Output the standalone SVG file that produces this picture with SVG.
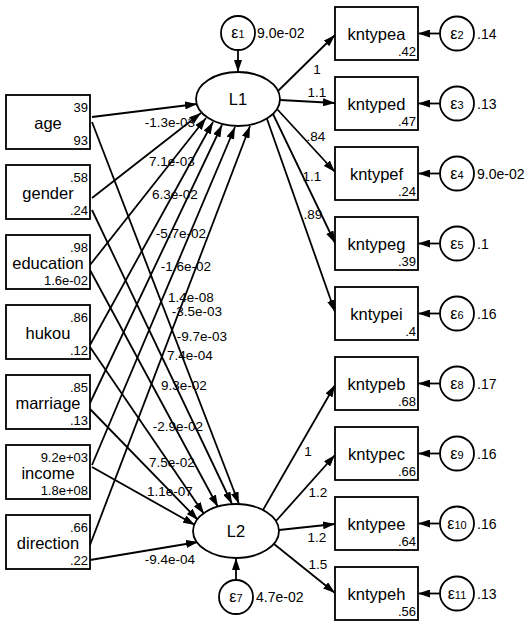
<svg xmlns="http://www.w3.org/2000/svg" width="529" height="627" viewBox="0 0 529 627">
<defs>
<marker id="ah" markerUnits="userSpaceOnUse" markerWidth="12" markerHeight="8" refX="12" refY="4" orient="auto">
<path d="M0,0 L12,4 L0,8 z" fill="#000"/>
</marker>
<style>
text{font-family:"Liberation Sans",Arial,sans-serif;fill:#000}
.box{fill:#fff;stroke:#000;stroke-width:1.8}
.nm{font-size:16.5px;text-anchor:middle}
.num{font-size:13px;text-anchor:end}
.lab{font-size:13.5px;text-anchor:middle}
.lbs{font-size:14px}
.eps{font-size:16px;text-anchor:middle}
.sub{font-size:11px}
.ell{fill:#fff;stroke:#000;stroke-width:1.8}
#connectors path{stroke:#000;stroke-width:1.8;fill:none;marker-end:url(#ah)}
</style>
</defs>
<rect width="529" height="627" fill="#fff"/>

<g id="connectors">
<path d="M92,117 L197,104"/>
<path d="M92,198 L201,113"/>
<path d="M90,265 L206,118"/>
<path d="M90,345 L213,122"/>
<path d="M90,403 L222,125"/>
<path d="M92,465 L235,127"/>
<path d="M90,545 L250,126"/>
<path d="M92,122 L239,504"/>
<path d="M92,210 L232,504"/>
<path d="M90,270 L218,507"/>
<path d="M90,347 L204,514"/>
<path d="M90,409 L198,520"/>
<path d="M92,467 L195,525"/>
<path d="M90,560 L198,542"/>
<path d="M278,91 L335,35"/>
<path d="M280,100 L335,103"/>
<path d="M277,109 L335,172"/>
<path d="M273,114 L335,243"/>
<path d="M267,119 L335,312"/>
<path d="M263,510 L335,385"/>
<path d="M276,521 L335,455"/>
<path d="M279,530 L335,524"/>
<path d="M274,544 L335,593"/>
<path d="M238,50 L238,72"/>
<path d="M236,580 L236,558"/>
<path d="M440,33.5 L418,33.5"/>
<path d="M440,103.5 L418,103.5"/>
<path d="M440,173.5 L418,173.5"/>
<path d="M440,243.5 L418,243.5"/>
<path d="M440,313.5 L418,313.5"/>
<path d="M440,383.5 L418,383.5"/>
<path d="M440,453.5 L418,453.5"/>
<path d="M440,523.5 L418,523.5"/>
<path d="M440,593.5 L418,593.5"/>
</g>

<g id="path-labels">
<text class="lab" x="170" y="127">-1.3e-03</text>
<text class="lab" x="172" y="166">7.1e-03</text>
<text class="lab" x="175" y="199">6.3e-02</text>
<text class="lab" x="181" y="238">-5.7e-02</text>
<text class="lab" x="186" y="271">-1.6e-02</text>
<text class="lab" x="191" y="302">1.4e-08</text>
<text class="lab" x="197" y="316">-3.5e-03</text>
<text class="lab" x="202" y="341">-9.7e-03</text>
<text class="lab" x="190" y="360">7.4e-04</text>
<text class="lab" x="184" y="390">9.3e-02</text>
<text class="lab" x="178" y="431">-2.9e-02</text>
<text class="lab" x="172" y="467">7.5e-02</text>
<text class="lab" x="170" y="496">1.1e-07</text>
<text class="lab" x="170" y="564">-9.4e-04</text>
<text class="lab" x="317" y="74">1</text>
<text class="lab" x="317" y="97">1.1</text>
<text class="lab" x="316" y="141">.84</text>
<text class="lab" x="312" y="181">1.1</text>
<text class="lab" x="313" y="219">.89</text>
<text class="lab" x="308" y="456">1</text>
<text class="lab" x="318" y="497">1.2</text>
<text class="lab" x="317" y="542">1.2</text>
<text class="lab" x="318" y="569">1.5</text>
</g>

<g id="age"><rect class="box" x="6" y="95" width="84" height="54"/><text class="num" x="88" y="112">39</text><text class="nm" x="48" y="129">age</text><text class="num" x="88" y="145">93</text></g>
<g id="gender"><rect class="box" x="6" y="165" width="84" height="54"/><text class="num" x="88" y="182">.58</text><text class="nm" x="48" y="199">gender</text><text class="num" x="88" y="215">.24</text></g>
<g id="education"><rect class="box" x="6" y="235" width="84" height="54"/><text class="num" x="88" y="252">.98</text><text class="nm" x="48" y="269">education</text><text class="num" x="88" y="285">1.6e-02</text></g>
<g id="hukou"><rect class="box" x="6" y="305" width="84" height="54"/><text class="num" x="88" y="322">.86</text><text class="nm" x="48" y="339">hukou</text><text class="num" x="88" y="355">.12</text></g>
<g id="marriage"><rect class="box" x="6" y="375" width="84" height="54"/><text class="num" x="88" y="392">.85</text><text class="nm" x="48" y="409">marriage</text><text class="num" x="88" y="425">.13</text></g>
<g id="income"><rect class="box" x="6" y="445" width="84" height="54"/><text class="num" x="88" y="462">9.2e+03</text><text class="nm" x="48" y="479">income</text><text class="num" x="88" y="495">1.8e+08</text></g>
<g id="direction"><rect class="box" x="6" y="515" width="84" height="54"/><text class="num" x="88" y="532">.66</text><text class="nm" x="48" y="549">direction</text><text class="num" x="88" y="565">.22</text></g>

<g id="L1"><ellipse class="ell" cx="238" cy="99" rx="42" ry="27"/><text class="nm" x="238" y="105">L1</text></g>
<g id="L2"><ellipse class="ell" cx="236" cy="531" rx="43" ry="27"/><text class="nm" x="236" y="537">L2</text></g>

<g id="e1"><circle class="ell" cx="238" cy="33" r="17"/><text class="eps" x="238" y="38">ε<tspan class="sub">1</tspan></text><text class="lbs" x="257" y="38">9.0e-02</text></g>
<g id="e7"><circle class="ell" cx="236" cy="597" r="17"/><text class="eps" x="236" y="602">ε<tspan class="sub">7</tspan></text><text class="lbs" x="256" y="602">4.7e-02</text></g>

<g id="kntypea"><rect class="box" x="335" y="7" width="83" height="53"/><text class="nm" x="376.5" y="40">kntypea</text><text class="num" x="416" y="56">.42</text></g>
<g id="kntyped"><rect class="box" x="335" y="77" width="83" height="53"/><text class="nm" x="376.5" y="110">kntyped</text><text class="num" x="416" y="126">.47</text></g>
<g id="kntypef"><rect class="box" x="335" y="147" width="83" height="53"/><text class="nm" x="376.5" y="180">kntypef</text><text class="num" x="416" y="196">.24</text></g>
<g id="kntypeg"><rect class="box" x="335" y="217" width="83" height="53"/><text class="nm" x="376.5" y="250">kntypeg</text><text class="num" x="416" y="266">.39</text></g>
<g id="kntypei"><rect class="box" x="335" y="287" width="83" height="53"/><text class="nm" x="376.5" y="320">kntypei</text><text class="num" x="416" y="336">.4</text></g>
<g id="kntypeb"><rect class="box" x="335" y="357" width="83" height="53"/><text class="nm" x="376.5" y="390">kntypeb</text><text class="num" x="416" y="406">.68</text></g>
<g id="kntypec"><rect class="box" x="335" y="427" width="83" height="53"/><text class="nm" x="376.5" y="460">kntypec</text><text class="num" x="416" y="476">.66</text></g>
<g id="kntypee"><rect class="box" x="335" y="497" width="83" height="53"/><text class="nm" x="376.5" y="530">kntypee</text><text class="num" x="416" y="546">.64</text></g>
<g id="kntypeh"><rect class="box" x="335" y="567" width="83" height="53"/><text class="nm" x="376.5" y="600">kntypeh</text><text class="num" x="416" y="616">.56</text></g>

<g id="e2"><circle class="ell" cx="457" cy="33.5" r="17"/><text class="eps" x="457" y="38.5">ε<tspan class="sub">2</tspan></text><text class="lbs" x="477" y="38.5">.14</text></g>
<g id="e3"><circle class="ell" cx="457" cy="103.5" r="17"/><text class="eps" x="457" y="108.5">ε<tspan class="sub">3</tspan></text><text class="lbs" x="477" y="108.5">.13</text></g>
<g id="e4"><circle class="ell" cx="457" cy="173.5" r="17"/><text class="eps" x="457" y="178.5">ε<tspan class="sub">4</tspan></text><text class="lbs" x="477" y="178.5">9.0e-02</text></g>
<g id="e5"><circle class="ell" cx="457" cy="243.5" r="17"/><text class="eps" x="457" y="248.5">ε<tspan class="sub">5</tspan></text><text class="lbs" x="477" y="248.5">.1</text></g>
<g id="e6"><circle class="ell" cx="457" cy="313.5" r="17"/><text class="eps" x="457" y="318.5">ε<tspan class="sub">6</tspan></text><text class="lbs" x="477" y="318.5">.16</text></g>
<g id="e8"><circle class="ell" cx="457" cy="383.5" r="17"/><text class="eps" x="457" y="388.5">ε<tspan class="sub">8</tspan></text><text class="lbs" x="477" y="388.5">.17</text></g>
<g id="e9"><circle class="ell" cx="457" cy="453.5" r="17"/><text class="eps" x="457" y="458.5">ε<tspan class="sub">9</tspan></text><text class="lbs" x="477" y="458.5">.16</text></g>
<g id="e10"><circle class="ell" cx="457" cy="523.5" r="17"/><text class="eps" x="457" y="528.5">ε<tspan class="sub">10</tspan></text><text class="lbs" x="477" y="528.5">.16</text></g>
<g id="e11"><circle class="ell" cx="457" cy="593.5" r="17"/><text class="eps" x="457" y="598.5">ε<tspan class="sub">11</tspan></text><text class="lbs" x="477" y="598.5">.13</text></g>
</svg>
